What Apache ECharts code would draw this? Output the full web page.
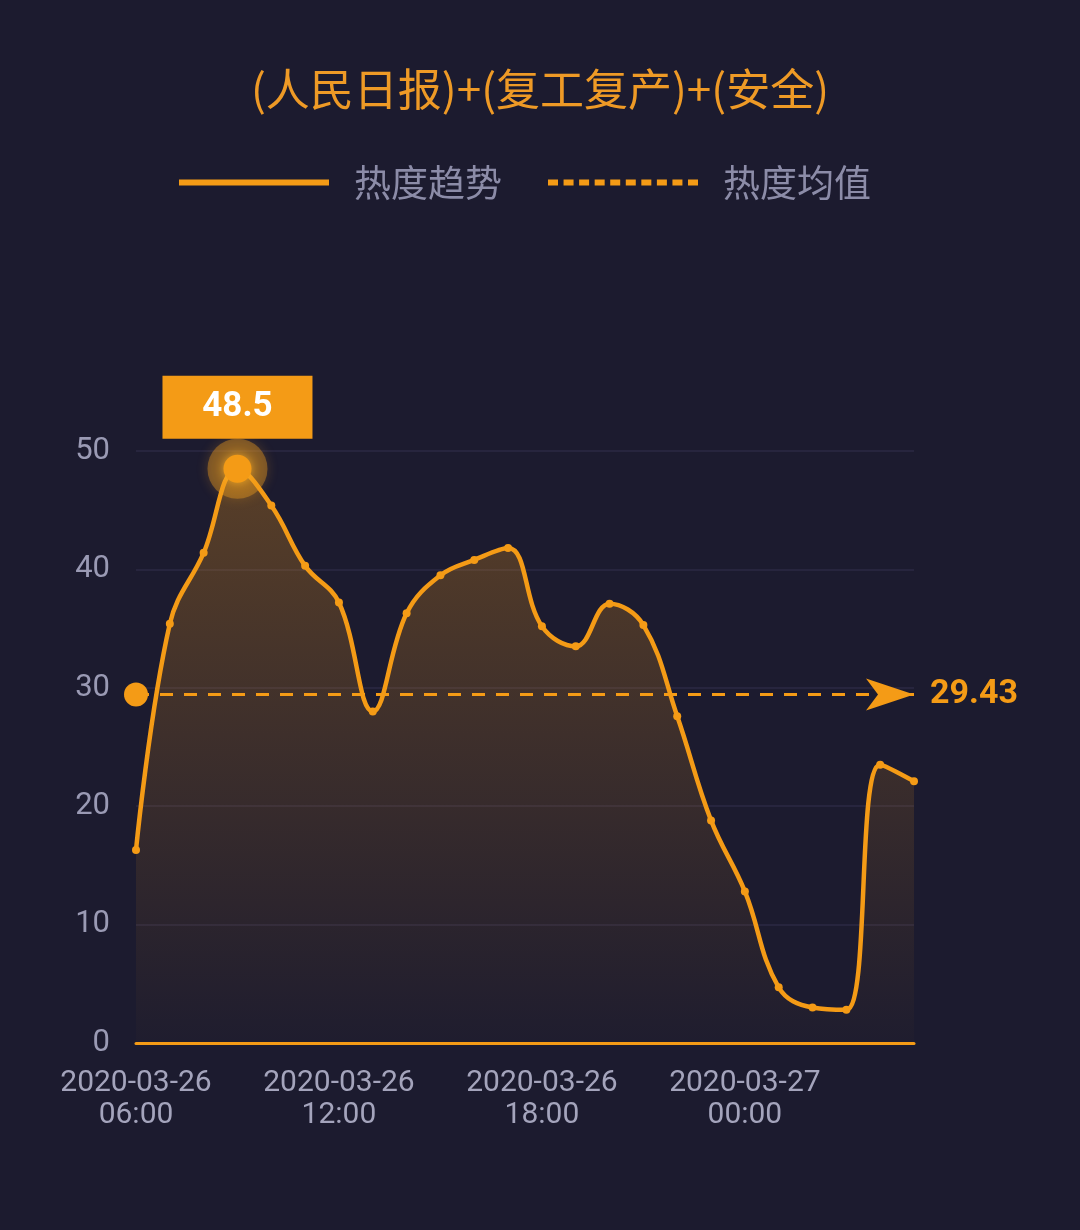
<!DOCTYPE html>
<html>
<head>
<meta charset="utf-8">
<script src="https://cdn.jsdelivr.net/npm/echarts@6/dist/echarts.min.js"></script>
<style>
html,body{margin:0;padding:0;background:#1c1b2f;}
#chart{width:1080px;height:1230px;}
</style>
</head>
<body>
<div id="chart"></div>
<script>
const titleText = '(人民日报)+(复工复产)+(安全)';
const seriesNames = ['热度趋势', '热度均值'];
const times = [
  '2020-03-26 06:00','2020-03-26 07:00','2020-03-26 08:00','2020-03-26 09:00',
  '2020-03-26 10:00','2020-03-26 11:00','2020-03-26 12:00','2020-03-26 13:00',
  '2020-03-26 14:00','2020-03-26 15:00','2020-03-26 16:00','2020-03-26 17:00',
  '2020-03-26 18:00','2020-03-26 19:00','2020-03-26 20:00','2020-03-26 21:00',
  '2020-03-26 22:00','2020-03-26 23:00','2020-03-27 00:00','2020-03-27 01:00',
  '2020-03-27 02:00','2020-03-27 03:00','2020-03-27 04:00','2020-03-27 05:00'
];
const heatValues = [
  16.3, 35.4, 41.4, 48.5, 45.4, 40.3, 37.2, 28.0,
  36.3, 39.5, 40.8, 41.8, 35.2, 33.5, 37.1, 35.3,
  27.6, 18.8, 12.8, 4.7, 3.0, 2.8, 23.5, 22.1
];
const averageValue = 29.43;
const yMin = 0, yMax = 50, yInterval = 10;

const ORANGE = '#F49B16';
const chart = echarts.init(document.getElementById('chart'));

// dashed legend icon (10 dashes across a 150x6 box)
let dashPath = 'path://';
for (let i = 0; i < 10; i++) { dashPath += 'M' + (i * 140 / 9).toFixed(2) + ',0h10v6h-10z'; }

chart.setOption({
  backgroundColor: '#1c1b2f',
  animation: false,
  textStyle: { fontFamily: 'Roboto, "Noto Sans CJK SC", sans-serif' },
  title: {
    text: titleText,
    left: 'center',
    top: 62,
    textStyle: { color: '#EE9A26', fontSize: 44, fontWeight: 'normal', fontFamily: '"Noto Sans CJK SC", sans-serif' }
  },
  legend: {
    left: 174,
    top: 159,
    itemWidth: 150,
    itemHeight: 6,
    itemGap: 46,
    itemStyle: { borderWidth: 0 },
    textStyle: { color: '#8c8ca8', fontSize: 37, padding: [0, 0, 0, 20], fontFamily: '"Noto Sans CJK SC", sans-serif' },
    data: [
      { name: seriesNames[0], icon: 'rect' },
      { name: seriesNames[1], icon: dashPath }
    ]
  },
  grid: { left: 136, right: 166, top: 451, bottom: 187 },
  xAxis: {
    type: 'category',
    data: times,
    boundaryGap: false,
    axisLine: { lineStyle: { color: ORANGE, width: 3 } },
    axisTick: { show: false },
    splitLine: { show: false },
    axisLabel: {
      interval: 5,
      color: '#a4a4bc',
      fontSize: 30,
      lineHeight: 32,
      margin: 24,
      formatter: v => v.replace(' ', '\n')
    }
  },
  yAxis: {
    type: 'value',
    min: yMin, max: yMax, interval: yInterval,
    axisLine: { show: false },
    axisTick: { show: false },
    axisLabel: { color: '#9a9ab4', fontSize: 31, margin: 26 },
    splitLine: { lineStyle: { color: '#2b2a44', width: 1.5 } }
  },
  series: [
    {
      name: seriesNames[0],
      type: 'line',
      data: heatValues,
      smooth: 0.4,
      symbol: 'circle',
      symbolSize: 8,
      color: ORANGE,
      lineStyle: { color: ORANGE, width: 4.5 },
      itemStyle: { color: ORANGE },
      areaStyle: {
        color: new echarts.graphic.LinearGradient(0, 0, 0, 1, [
          { offset: 0, color: 'rgba(244,155,22,0.4)' },
          { offset: 1, color: 'rgba(244,155,22,0.02)' }
        ])
      },
      markPoint: {
        silent: true,
        data: [
          { type: 'max', symbol: 'circle', symbolSize: 60,
            itemStyle: { color: 'rgba(244,160,30,0.38)', shadowBlur: 12, shadowColor: 'rgba(244,160,30,0.6)' },
            label: { show: false } },
          { type: 'max', symbol: 'circle', symbolSize: 28,
            itemStyle: { color: ORANGE, shadowBlur: 10, shadowColor: 'rgba(255,180,40,0.8)' },
            label: {
              show: true, position: 'top', distance: 16,
              formatter: '{c}',
              backgroundColor: ORANGE,
              color: '#ffffff', fontSize: 35, fontWeight: 'bold',
              width: 150, height: 63, lineHeight: 63, align: 'center'
            } }
        ]
      },
      markLine: {
        silent: true,
        lineStyle: { color: ORANGE, width: 3, type: [13, 11] },
        label: {
          show: true, position: 'end', distance: 16,
          color: ORANGE, fontSize: 34, fontWeight: 'bold',
          formatter: () => averageValue.toFixed(2)
        },
        data: [[
          { coord: [times[0], averageValue], symbol: 'circle', symbolSize: 24 },
          { coord: [times[times.length - 1], averageValue], symbol: 'arrow', symbolSize: [24, 48] }
        ]]
      }
    },
    {
      name: seriesNames[1],
      type: 'line',
      data: [],
      color: ORANGE,
      lineStyle: { color: ORANGE, width: 4, type: 'dashed' },
      itemStyle: { color: ORANGE }
    }
  ]
});
</script>
</body>
</html>
